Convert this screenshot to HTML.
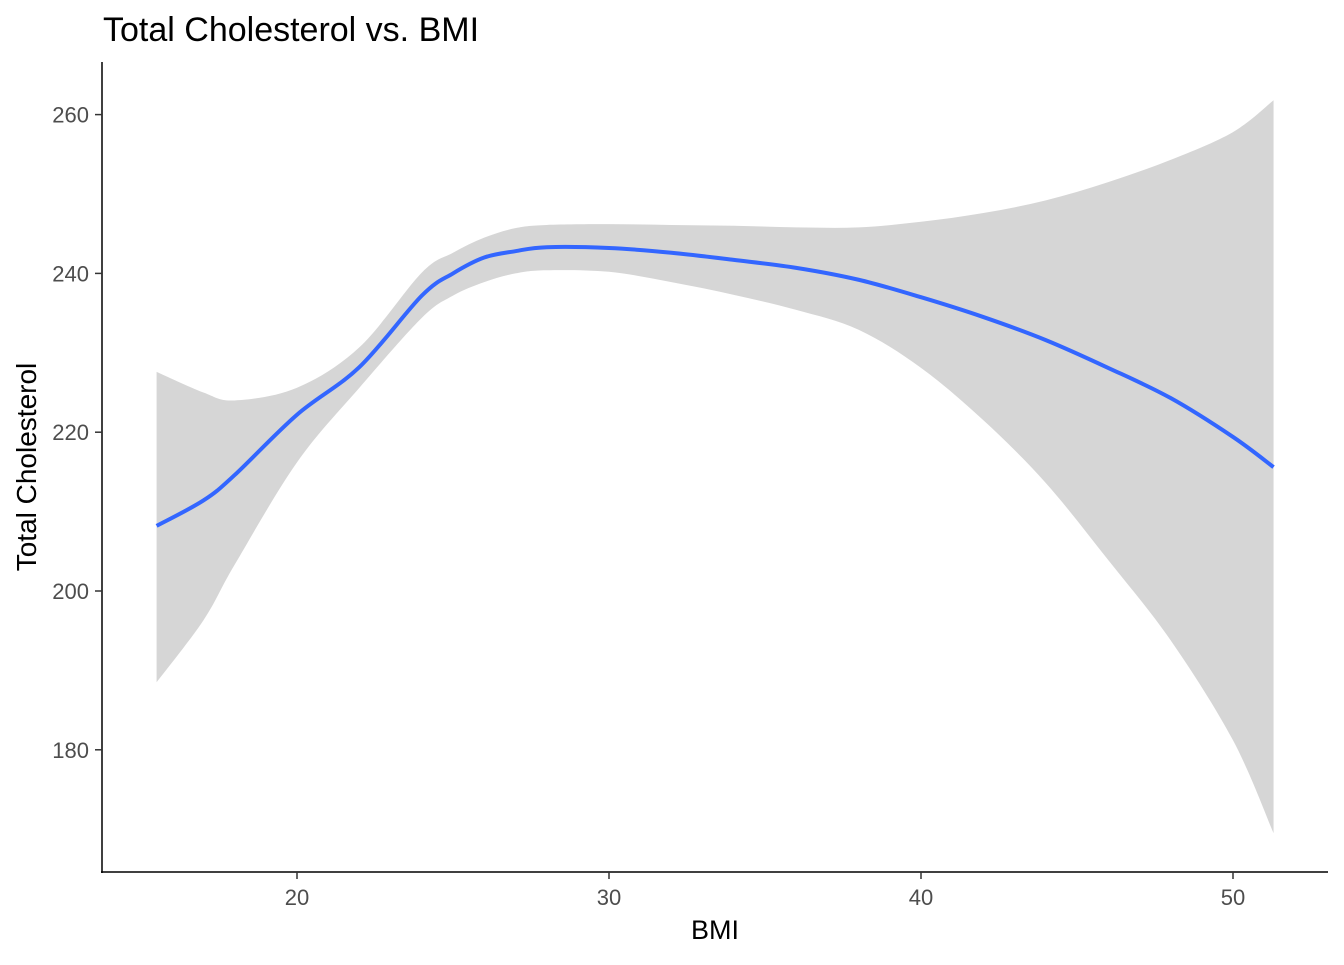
<!DOCTYPE html>
<html><head><meta charset="utf-8"><style>
body{margin:0;background:#fff;}
svg text{font-family:"Liberation Sans",sans-serif;}
</style></head><body>
<svg id="chart" width="1344" height="960" xmlns="http://www.w3.org/2000/svg">
<text x="103" y="41" font-size="34" fill="#000">Total Cholesterol vs. BMI</text>
<g id="band"></g>
<g id="line"></g>
<line x1="102" y1="62" x2="102" y2="873" stroke="#000" stroke-width="1.5"/>
<line x1="101" y1="872" x2="1328" y2="872" stroke="#000" stroke-width="1.5"/>
<g id="xticks"></g>
<g id="yticks"></g>
<text x="715" y="939" font-size="27" text-anchor="middle">BMI</text>
<text transform="translate(36,467) rotate(-90)" font-size="28" text-anchor="middle">Total Cholesterol</text>
</svg>
<script>
const bmi=[15.5,17,18,20,22,24,25,26,27,28,30,32,34,36,38,40,42,44,46,48,50,51.3];
const fit=[208.2,211.4,214.6,222.2,228.2,237.2,240,242,242.8,243.3,243.2,242.6,241.7,240.7,239.2,237,234.5,231.6,228.1,224.3,219.4,215.6];
const upper=[227.6,225,224,225.6,230.7,240.1,242.6,244.5,245.7,246.1,246.2,246.1,246,245.8,245.8,246.5,247.6,249.2,251.5,254.3,257.8,261.8];
const lower=[188.5,196.3,203.3,216.2,225.6,234.4,237.2,238.9,240,240.4,240.2,238.9,237.3,235.4,232.9,228.1,221.5,213.6,203.9,193.8,181.2,169.5];
const xTicks=[20,30,40,50];
const yTicks=[180,200,220,240,260];
const NS="http://www.w3.org/2000/svg";
const xs=v=>297+(v-20)*31.2;
const ys=v=>591-(v-200)*7.94;
function smooth(pts,start){
 let d=start?"M"+pts[0][0]+","+pts[0][1]:"L"+pts[0][0]+","+pts[0][1];
 for(let i=0;i<pts.length-1;i++){
  const p0=pts[Math.max(0,i-1)],p1=pts[i],p2=pts[i+1],p3=pts[Math.min(pts.length-1,i+2)];
  const c1=[p1[0]+(p2[0]-p0[0])/6,p1[1]+(p2[1]-p0[1])/6];
  const c2=[p2[0]-(p3[0]-p1[0])/6,p2[1]-(p3[1]-p1[1])/6];
  d+="C"+c1+" "+c2+" "+p2;
 }
 return d;
}
const up=bmi.map((b,i)=>[xs(b),ys(upper[i])]);
const lo=bmi.map((b,i)=>[xs(b),ys(lower[i])]).reverse();
const band=document.createElementNS(NS,"path");
band.setAttribute("d",smooth(up,true)+smooth(lo,false)+"Z");band.setAttribute("fill","#d6d6d6");


document.getElementById("band").appendChild(band);
const ln=document.createElementNS(NS,"path");
ln.setAttribute("d",smooth(bmi.map((b,i)=>[xs(b),ys(fit[i])]),true));
ln.setAttribute("fill","none");ln.setAttribute("stroke","#3366ff");ln.setAttribute("stroke-width","4");


document.getElementById("line").appendChild(ln);
xTicks.forEach(t=>{
 const l=document.createElementNS(NS,"line");
 l.setAttribute("x1",xs(t));l.setAttribute("x2",xs(t));l.setAttribute("y1",872);l.setAttribute("y2",879);l.setAttribute("stroke","#333");l.setAttribute("stroke-width","1.5");
 
 
 document.getElementById("xticks").appendChild(l);
 const tx=document.createElementNS(NS,"text");
 tx.setAttribute("x",xs(t));tx.setAttribute("y",905);tx.setAttribute("text-anchor","middle");tx.setAttribute("font-size","22");tx.setAttribute("fill","#4d4d4d");
 tx.textContent=t;
 
 
 document.getElementById("xticks").appendChild(tx);
});
yTicks.forEach(t=>{
 const l=document.createElementNS(NS,"line");
 l.setAttribute("x1",95);l.setAttribute("x2",102);l.setAttribute("y1",ys(t));l.setAttribute("y2",ys(t));l.setAttribute("stroke","#333");l.setAttribute("stroke-width","1.5");
 
 
 document.getElementById("yticks").appendChild(l);
 const tx=document.createElementNS(NS,"text");
 tx.setAttribute("x",89);tx.setAttribute("y",ys(t)+8);tx.setAttribute("text-anchor","end");tx.setAttribute("font-size","22");tx.setAttribute("fill","#4d4d4d");
 tx.textContent=t;
 
 
 document.getElementById("yticks").appendChild(tx);
});
</script>
</body></html>
